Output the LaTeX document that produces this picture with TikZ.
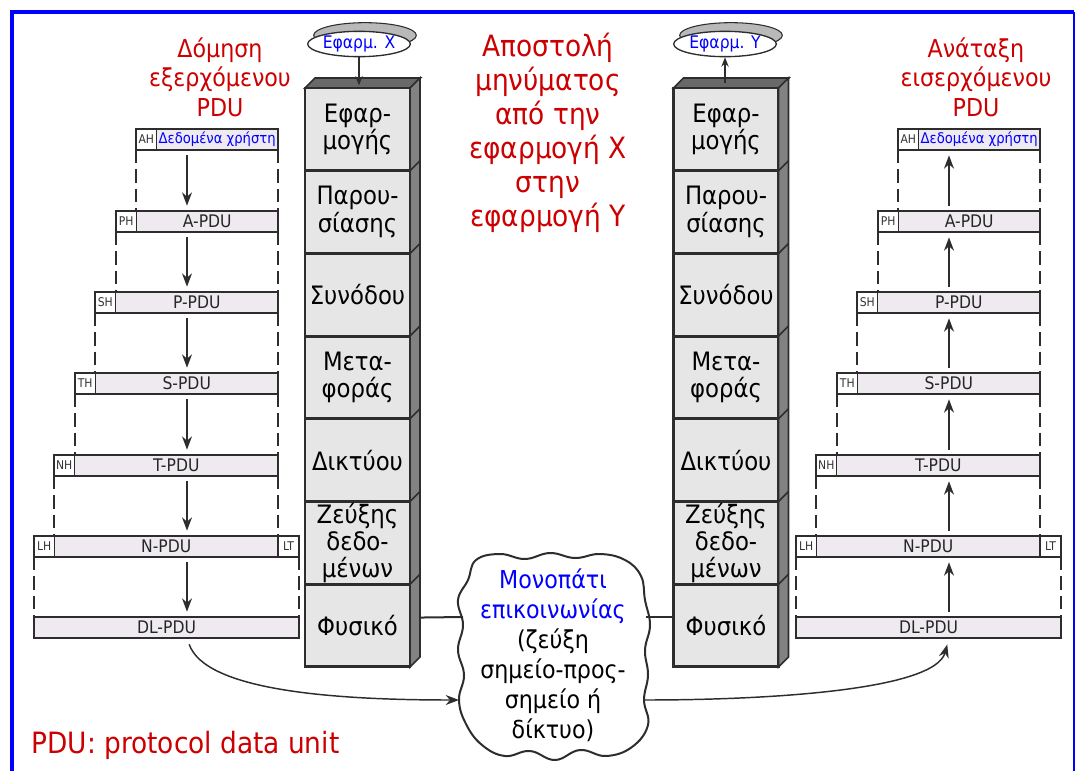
\documentclass[tikz,border=0pt]{standalone}
\usepackage{fontspec}
\setmainfont{DejaVu Sans Condensed}
\usepackage{tikz}
\usetikzlibrary{arrows.meta,positioning,shapes.geometric,shadows}
\definecolor{dred}{RGB}{204,0,0}
\definecolor{edge}{RGB}{45,45,45}
\definecolor{layfill}{RGB}{230,230,230}
\definecolor{sidefill}{RGB}{130,130,130}
\definecolor{topfill}{RGB}{105,105,105}
\definecolor{pdufill}{RGB}{238,234,240}

\begin{document}
\begin{tikzpicture}[x=0.75pt,y=-0.75pt,>={Stealth[length=10pt,width=7.5pt]},
  lay/.style={draw=edge,line width=2.2pt,fill=layfill,text width=78.75pt,minimum height=62pt,
    inner sep=0pt,outer sep=0pt,align=center,font=\fontsize{19}{20.5}\selectfont},
  app/.style={draw=edge,line width=1pt,fill=white,ellipse,minimum width=77pt,minimum height=19pt,
    inner sep=0pt,text=blue,font=\fontsize{13}{14}\selectfont,
    copy shadow={shadow xshift=4.5pt,shadow yshift=6.5pt,fill=gray!55,draw=edge,line width=0.8pt}},
  hd/.style={draw=edge,line width=1.4pt,fill=white,minimum width=15.4pt,minimum height=15.75pt,
    inner sep=0pt,outer sep=0pt,anchor=north west,font=\fontsize{9}{10}\selectfont,text=black!80},
  pdu/.style={draw=edge,line width=1.4pt,fill=pdufill,minimum height=15.75pt,inner sep=0pt,
    outer sep=0pt,anchor=north west,font=\fontsize{13}{14}\selectfont,text=black!85},
  dsh/.style={draw=edge,line width=1.4pt,dash pattern=on 10pt off 4.5pt},
  flow/.style={draw=edge,line width=1.1pt,shorten <=4pt,shorten >=4pt},
  pdn/.style={->},pup/.style={<-},
  small/.style={draw=edge,line width=1pt,-{Stealth[length=7pt,width=5.5pt]}},
  ttl/.style={align=center,text=dred}]
\useasboundingbox (0,0) rectangle (1075,771);

% frame
\draw[blue,line width=3pt] (11.5,771) -- (11.5,11.5) -- (1074,11.5);
\draw[blue,line width=1.5pt] (1074,11.5) -- (1074,771);

% the two layer stacks
\foreach \s/\o in {x/0,y/368.5}{
  \foreach \t [count=\i] in {{Εφαρ-\\μογής},{Παρου-\\σίασης},{Συνόδου},{Μετα-\\φοράς},{Δικτύου},{Ζεύξης\\δεδο-\\μένων},{Φυσικό}}
    \node[lay] (\s\i) at (357.5+\o,{88+82.7*(\i-0.5)}) {\t};
  \draw[draw=edge,line width=1.2pt,fill=topfill] (\s1.north west) -- ++(10,-10) -- ++(105.5,0) -- (\s1.north east) -- cycle;
  \draw[draw=edge,line width=1.2pt,fill=sidefill] (\s1.north east) -- ++(10,-10) -- ([shift={(10,-10)}]\s7.south east) -- (\s7.south east) -- cycle;
  \foreach \i in {1,...,6}
    \draw[draw=edge,line width=1.2pt] (\s\i.south east) -- ++(10,-10);
}

% applications
\node[app] (ex) at (359,44) {Εφαρμ. X};
\node[app] (ey) at (725,44) {Εφαρμ. Y};
\draw[small,shorten >=2pt] (ex) -- (ex |- x1.north);
\draw[small] ([yshift=4pt]ey |- y1.north) -- (ey);

% headings
\node[ttl,font=\fontsize{18.5}{22}\selectfont] (lt) at (220,77) {Δόμηση\\εξερχόμενου\\PDU};
\node[ttl,font=\fontsize{22}{25.5}\selectfont] (mt) at (548,133) {Αποστολή\\μηνύματος\\από την\\εφαρμογή X\\στην\\εφαρμογή Y};
\node[ttl,font=\fontsize{18.5}{22}\selectfont] (rt) at (976,77) {Ανάταξη\\εισερχόμενου\\PDU};
\node[text=dred,anchor=west,font=\fontsize{22}{24}\selectfont] (note) at (27,745) {PDU: protocol data unit};

% PDU build-up (left) and unpacking (right)
\foreach \s/\o/\d in {l/0/pdn,r/762/pup}{
  \coordinate (\s a) at (187+\o,0);
  \foreach \h/\t/\x/\y [count=\k] in {AH/{\fontsize{11}{12}\selectfont\textcolor{blue}{Δεδομένα χρήστη}}/136/129,PH/A-PDU/116/211,SH/P-PDU/95/292,TH/S-PDU/75/373,NH/T-PDU/54/455,LH/N-PDU/34/536}{
    \node[hd] (\s h\k) at (\x+\o,\y) {\h};
    \node[pdu,minimum width={(278-\x-20.5)*0.75pt}] (\s b\k) at (\x+20.5+\o,\y) {\t};
  }
  \node[hd,minimum width=15.75pt] (\s t) at (278+\o,536) {LT};
  \node[pdu,minimum width=198.75pt] (\s d) at (34+\o,617) {DL-PDU};
  \foreach \k [remember=\k as \p (initially 1)] in {2,...,6}{
    \draw[dsh] (\s h\p.south west) -- (\s h\p.south west |- \s h\k.north);
    \draw[dsh] (\s b\p.south east) -- (\s b\p.south east |- \s b\k.north);
    \draw[flow,\d] (\s b\p.south -| \s a) -- (\s b\k.north -| \s a);
  }
  \draw[dsh] (\s h6.south west) -- (\s h6.south west |- \s d.north);
  \draw[dsh] (\s t.south east) -- (\s t.south east |- \s d.north);
  \draw[flow,\d] (\s b6.south -| \s a) -- (\s d.north -| \s a);
}

% communication path
\draw[draw=edge,line width=1.5pt,fill=white] plot[smooth cycle,tension=0.7] coordinates {
  (468,580) (476,560) (500,554) (525,559) (550,553) (575,558) (600,554) (625,560) (641,576)
  (645,600) (650,625) (645,650) (648,675) (644,700) (648,725) (632,747) (606,756) (580,750)
  (555,760) (530,751) (505,756) (482,745) (466,724) (459,700) (464,675) (458,650) (463,625)
  (458,600)};
\node[align=center,font=\fontsize{18.5}{22.5}\selectfont] (cl) at (553,655)
  {\textcolor{blue}{Μονοπάτι}\\\textcolor{blue}{επικοινωνίας}\\(ζεύξη\\σημείο-προς-\\σημείο ή\\δίκτυο)};
\coordinate (cw) at (463,617);
\coordinate (ce) at (646,617);
\coordinate (cin) at (459,700);
\coordinate (cout) at (645,700);
\draw[draw=edge,line width=1.5pt] ([shift={(10,-8)}]x7.east) -- (cw);
\draw[draw=edge,line width=1.5pt] (ce) -- (ce -| y7.west);
\draw[draw=edge,line width=1.1pt,->,shorten <=5pt] (ld.south -| la) .. controls (205,690) and (330,700) .. (cin);
\draw[draw=edge,line width=1.1pt,->,shorten >=5pt] (cout) .. controls (770,700) and (935,690) .. (rd.south -| ra);
\end{tikzpicture}
\end{document}
